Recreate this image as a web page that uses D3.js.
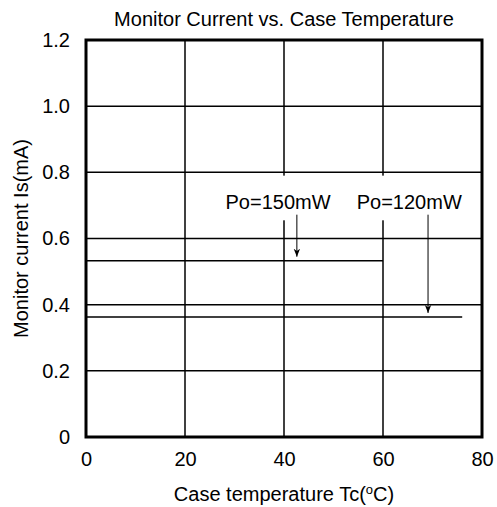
<!DOCTYPE html>
<html>
<head>
<meta charset="utf-8">
<script src="https://cdn.jsdelivr.net/npm/d3@7"></script>
<style>
  body { margin: 0; background: #fff; }
  text { font-family: "Liberation Sans", Arial, sans-serif; fill: #000; }
</style>
</head>
<body>
<div id="chart"></div>
<script>
// 데이터
const xTicks = [0, 20, 40, 60, 80];
const yTicks = [0, 0.2, 0.4, 0.6, 0.8, 1.0, 1.2];
const yTickLabels = ["0", "0.2", "0.4", "0.6", "0.8", "1.0", "1.2"];

const seriesNames = ["Po=150mW", "Po=120mW"];
const seriesTemp = [[0, 60], [0, 76]];
const seriesCurrent = [[0.533, 0.533], [0.363, 0.363]];

// label position + arrow (x, y from, y to) in data units
const labelX = [38.8, 65.3];
const labelY = [0.69, 0.69];
const arrowX = [42.6, 69.1];
const arrowFrom = [0.672, 0.672];
const arrowTo = [0.545, 0.375];

const W = 497, H = 507;
const margin = {top: 40, right: 15, bottom: 70, left: 86};
const width = W - margin.left - margin.right;
const height = H - margin.top - margin.bottom;
const fontSize = 20;

const svg = d3.select("#chart").append("svg")
    .attr("width", W)
    .attr("height", H);

const g = svg.append("g")
    .attr("transform", `translate(${margin.left},${margin.top})`);

const x = d3.scaleLinear().domain([0, 80]).range([0, width]);
const y = d3.scaleLinear().domain([0, 1.2]).range([height, 0]);

// 그리드
g.append("g").selectAll("line")
    .data(xTicks.slice(1, -1))
    .join("line")
    .attr("x1", d => x(d)).attr("x2", d => x(d))
    .attr("y1", 0).attr("y2", height)
    .attr("stroke", "#000").attr("stroke-width", 1.5);

g.append("g").selectAll("line")
    .data(yTicks.slice(1, -1))
    .join("line")
    .attr("x1", 0).attr("x2", width)
    .attr("y1", d => y(d)).attr("y2", d => y(d))
    .attr("stroke", "#000").attr("stroke-width", 1.5);

// 라벨 뒤 흰 박스
g.append("rect")
    .attr("x", x(35)).attr("y", y(0.79))
    .attr("width", x(79) - x(35))
    .attr("height", y(0.655) - y(0.79))
    .attr("fill", "#fff");

// 축
const xAxis = g.append("g")
    .attr("transform", `translate(0,${height})`)
    .call(d3.axisBottom(x).tickValues(xTicks).tickSize(0).tickPadding(15));
const yAxis = g.append("g")
    .call(d3.axisLeft(y).tickValues(yTicks).tickSize(0).tickPadding(16)
        .tickFormat((d, i) => yTickLabels[i]));
[xAxis, yAxis].forEach(a => {
    a.select(".domain").remove();
    a.selectAll("text").attr("font-size", fontSize)
        .attr("font-family", "Liberation Sans, Arial, sans-serif");
});

// 데이터 선
const line = d3.line()
    .x(d => x(d[0]))
    .y(d => y(d[1]));

g.append("g").selectAll("path")
    .data(seriesNames.map((n, i) => seriesTemp[i].map((t, j) => [t, seriesCurrent[i][j]])))
    .join("path")
    .attr("d", line)
    .attr("fill", "none")
    .attr("stroke", "#000")
    .attr("stroke-width", 1.5);

// 화살표
svg.append("defs").append("marker")
    .attr("id", "arrow")
    .attr("viewBox", "0 0 10 10")
    .attr("refX", 10).attr("refY", 5)
    .attr("markerWidth", 8).attr("markerHeight", 8)
    .attr("markerUnits", "userSpaceOnUse")
    .attr("orient", "auto")
    .append("path")
    .attr("d", "M0,1 L10,5 L0,9 L3,5 Z")
    .attr("fill", "#000");

g.append("g").selectAll("line")
    .data(arrowX)
    .join("line")
    .attr("x1", d => x(d)).attr("x2", d => x(d))
    .attr("y1", (d, i) => y(arrowFrom[i]))
    .attr("y2", (d, i) => y(arrowTo[i]))
    .attr("stroke", "#000").attr("stroke-width", 1)
    .attr("marker-end", "url(#arrow)");

g.append("g").selectAll("text")
    .data(seriesNames)
    .join("text")
    .attr("x", (d, i) => x(labelX[i]))
    .attr("y", (d, i) => y(labelY[i]))
    .attr("text-anchor", "middle")
    .attr("font-size", fontSize)
    .text(d => d);

// 테두리
g.append("rect")
    .attr("width", width).attr("height", height)
    .attr("fill", "none")
    .attr("stroke", "#000").attr("stroke-width", 3);

// 제목, 축 제목
svg.append("text")
    .attr("x", margin.left + width / 2)
    .attr("y", 26)
    .attr("text-anchor", "middle")
    .attr("font-size", fontSize)
    .text("Monitor Current vs. Case Temperature");

const xl = svg.append("text")
    .attr("x", margin.left + width / 2)
    .attr("y", 501)
    .attr("text-anchor", "middle")
    .attr("font-size", fontSize);
xl.append("tspan").text("Case temperature Tc(");
xl.append("tspan").attr("font-size", 13).attr("dy", -7).text("o");
xl.append("tspan").attr("dy", 7).text("C)");

svg.append("text")
    .attr("transform", `translate(28,${margin.top + height / 2}) rotate(-90)`)
    .attr("text-anchor", "middle")
    .attr("font-size", fontSize)
    .text("Monitor current Is(mA)");
</script>
</body>
</html>
